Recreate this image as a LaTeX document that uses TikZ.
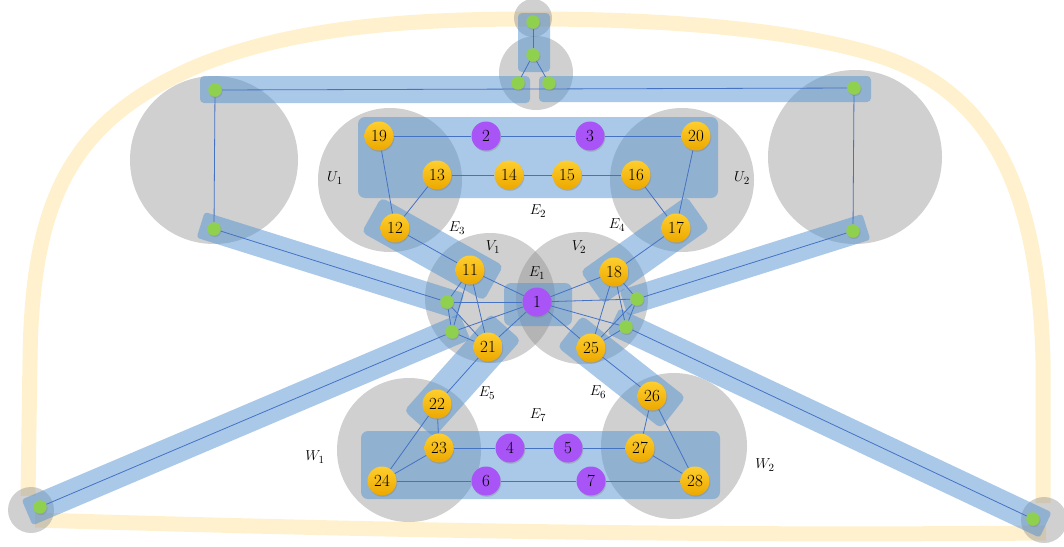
\documentclass[tikz,border=0pt]{standalone}
\usetikzlibrary{shadows,calc}
\pgfdeclarelayer{yel}
\pgfdeclarelayer{blob}
\pgfdeclarelayer{edg}
\pgfsetlayers{yel,blob,edg,main}
\definecolor{ycol}{RGB}{255,241,206}
\definecolor{gblob}{RGB}{137,137,137}
\definecolor{bblob}{RGB}{85,147,211}
\definecolor{ecol}{RGB}{68,114,196}
\definecolor{ytop}{RGB}{255,206,45}
\definecolor{ybot}{RGB}{236,168,0}
\definecolor{pcol}{RGB}{168,84,246}
\definecolor{gcol}{RGB}{143,208,78}
\begin{document}
\begin{tikzpicture}[x=1pt,y=-1pt,
  shad/.style={drop shadow={shadow xshift=0.8pt, shadow yshift=-1.3pt, opacity=0.35}},
  ynode/.style={circle, minimum size=29pt, inner sep=0pt, top color=ytop, bottom color=ybot, draw=none, shad, font=\fontsize{17}{17}\selectfont},
  pnode/.style={circle, minimum size=29pt, inner sep=0pt, fill=pcol, draw=none, shad, font=\fontsize{17}{17}\selectfont},
  gnode/.style={circle, minimum size=13.5pt, inner sep=0pt, fill=gcol, draw=none, shad},
  lab/.style={font=\fontsize{15}{15}\selectfont, inner sep=0pt},
  edge/.style={draw=ecol, line width=0.8pt},
  gray blob/.style={fill=gblob, fill opacity=0.4},
  blue box/.style={fill=bblob, fill opacity=0.5, rounded corners=7pt},
  slant box/.style={fill=bblob, fill opacity=0.5, rounded corners=5pt, sloped, midway, inner sep=0pt, draw=none},
  yloop/.style={draw=ycol, line width=15pt, line cap=butt}
]
\useasboundingbox (0,0) rectangle (1064,546);
% ---------- nodes ----------
\node[ynode] (n19) at (379,136) {19};
\node[pnode] (n2) at (486,136) {2};
\node[pnode] (n3) at (590,136) {3};
\node[ynode] (n20) at (696,136) {20};
\node[ynode] (n13) at (437,175) {13};
\node[ynode] (n14) at (509,175) {14};
\node[ynode] (n15) at (567,175) {15};
\node[ynode] (n16) at (636,175) {16};
\node[ynode] (n12) at (395,228) {12};
\node[ynode] (n17) at (676,228) {17};
\node[ynode] (n11) at (470,270) {11};
\node[ynode] (n18) at (614,272) {18};
\node[pnode] (n1) at (537,302) {1};
\node[ynode] (n21) at (488,347) {21};
\node[ynode] (n25) at (591,348) {25};
\node[ynode] (n22) at (437,404) {22};
\node[ynode] (n26) at (652,396) {26};
\node[ynode] (n23) at (439,448) {23};
\node[pnode] (n4) at (510,448) {4};
\node[pnode] (n5) at (568,448) {5};
\node[ynode] (n27) at (640,448) {27};
\node[ynode] (n24) at (382,481) {24};
\node[pnode] (n6) at (486,481) {6};
\node[pnode] (n7) at (591,481) {7};
\node[ynode] (n28) at (695,481) {28};
% green nodes
\node[gnode] (gT1) at (533,22) {};
\node[gnode] (gT2) at (533,55) {};
\node[gnode] (gT3) at (518,83) {};
\node[gnode] (gT4) at (549,83) {};
\node[gnode] (gL1) at (215,90) {};
\node[gnode] (gL2) at (214,229) {};
\node[gnode] (gR1) at (854,88) {};
\node[gnode] (gR2) at (853,231) {};
\node[gnode] (gA) at (447,302) {};
\node[gnode] (gB) at (452,332) {};
\node[gnode] (gC) at (637,299) {};
\node[gnode] (gD) at (626,327) {};
\node[gnode] (gBL) at (40,507) {};
\node[gnode] (gBR) at (1033,519) {};
% labels
\node[lab] (lU1) at (335,178) {$U_1$};
\node[lab] (lU2) at (742,178) {$U_2$};
\node[lab] (lE2) at (538,211) {$E_2$};
\node[lab] (lE3) at (457,228) {$E_3$};
\node[lab] (lE4) at (617,225) {$E_4$};
\node[lab] (lV1) at (493,247) {$V_1$};
\node[lab] (lV2) at (579,247) {$V_2$};
\node[lab] (lE1) at (537,273) {$E_1$};
\node[lab] (lE5) at (487,393) {$E_5$};
\node[lab] (lE6) at (598,392) {$E_6$};
\node[lab] (lE7) at (538,415) {$E_7$};
\node[lab] (lW1) at (315,457) {$W_1$};
\node[lab] (lW2) at (765,465) {$W_2$};
% ---------- yellow loop ----------
\begin{pgfonlayer}{yel}
\draw[yloop] (28,496) -- (30,360) .. controls (32,200) and (70,120) .. (200,65)
  .. controls (300,25) and (420,19) .. (533,19)
  .. controls (650,19) and (780,27) .. (870,53)
  .. controls (980,85) and (1038,170) .. (1043,360) -- (1043,503);
\draw[yloop] (35,520) .. controls (400,531) and (700,536) .. (1046,533);
\end{pgfonlayer}
% ---------- gray blobs and blue boxes ----------
\begin{pgfonlayer}{blob}
\fill[gray blob] (214,160) circle (84pt);
\fill[gray blob] (855,157) circle (87pt);
\fill[gray blob] (533,18) circle (19pt);
\fill[gray blob] (536,73) circle (37pt);
\fill[gray blob] (390,180) circle (72pt);
\fill[gray blob] (682,180) circle (72pt);
\fill[gray blob] (490,298) circle (65pt);
\fill[gray blob] (582,298) circle (66pt);
\fill[gray blob] (409,450) circle (72pt);
\fill[gray blob] (674,446) circle (73pt);
\fill[gray blob] (31,510) circle (23pt);
\fill[gray blob] (1044,520) circle (23pt);
% axis-aligned boxes
\fill[blue box] (358,117) rectangle (718,198);
\fill[blue box] (361,431) rectangle (720,499);
\fill[blue box] (504,283) rectangle (572,326);
\fill[blue box, rounded corners=4pt] (518,13) rectangle (550,72);
\fill[blue box, rounded corners=4pt] (200,76) rectangle (530,103);
\fill[blue box, rounded corners=4pt] (539,76) rectangle (871,102);
% slanted boxes E3..E6
\path let \p1=($(n11.center)-(n12.center)$), \n1={veclen(\x1,\y1)} in
  (n12.center) -- node[slant box, minimum height=40pt, minimum width={\n1+54}] (bE3) {} (n11.center);
\path let \p1=($(n18.center)-(n17.center)$), \n1={veclen(\x1,\y1)} in
  (n17.center) -- node[slant box, minimum height=40pt, minimum width={\n1+54}] (bE4) {} (n18.center);
\path let \p1=($(n22.center)-(n21.center)$), \n1={veclen(\x1,\y1)} in
  (n21.center) -- node[slant box, minimum height=40pt, minimum width={\n1+54}] (bE5) {} (n22.center);
\path let \p1=($(n26.center)-(n25.center)$), \n1={veclen(\x1,\y1)} in
  (n25.center) -- node[slant box, minimum height=40pt, minimum width={\n1+54}] (bE6) {} (n26.center);
% long bars
\path let \p1=($(gA.center)-(gL2.center)$), \n1={veclen(\x1,\y1)} in
  (gL2.center) -- node[slant box, rounded corners=3pt, minimum height=27pt, minimum width={\n1+28}] (bA) {} (gA.center);
\path let \p1=($(gC.center)-(gR2.center)$), \n1={veclen(\x1,\y1)} in
  (gR2.center) -- node[slant box, rounded corners=3pt, minimum height=27pt, minimum width={\n1+28}] (bC) {} (gC.center);
\path let \p1=($(gB.center)-(gBL.center)$), \n1={veclen(\x1,\y1)} in
  (gBL.center) -- node[slant box, rounded corners=3pt, minimum height=28pt, minimum width={\n1+28}] (bB) {} (gB.center);
\path let \p1=($(gD.center)-(gBR.center)$), \n1={veclen(\x1,\y1)} in
  (gBR.center) -- node[slant box, rounded corners=3pt, minimum height=28pt, minimum width={\n1+28}] (bD) {} (gD.center);
\end{pgfonlayer}
% ---------- edges ----------
\begin{pgfonlayer}{edg}
\draw[edge] (gT1) -- (gT2);
\draw[edge] (gT2) -- (gT3);
\draw[edge] (gT2) -- (gT4);
\draw[edge] (gL1) -- (gR1);
\draw[edge] (gL1) -- (gL2);
\draw[edge] (gR1) -- (gR2);
\draw[edge] (gL2) -- (gA);
\draw[edge] (gR2) -- (gC);
\draw[edge] (gBL) -- (gB);
\draw[edge] (gBR) -- (gD);
\draw[edge] (n19) -- (n2);
\draw[edge] (n2) -- (n3);
\draw[edge] (n3) -- (n20);
\draw[edge] (n13) -- (n14);
\draw[edge] (n14) -- (n15);
\draw[edge] (n15) -- (n16);
\draw[edge] (n19) -- (n12);
\draw[edge] (n13) -- (n12);
\draw[edge] (n20) -- (n17);
\draw[edge] (n16) -- (n17);
\draw[edge] (n12) -- (n11);
\draw[edge] (n17) -- (n18);
% V1 clique
\draw[edge] (n11) -- (n21);
\draw[edge] (n11) -- (gA);
\draw[edge] (n11) -- (gB);
\draw[edge] (n11) -- (n1);
\draw[edge] (n21) -- (gA);
\draw[edge] (n21) -- (gB);
\draw[edge] (n21) -- (n1);
\draw[edge] (gA) -- (gB);
\draw[edge] (gA) -- (n1);
\draw[edge] (gB) -- (n1);
% V2 clique
\draw[edge] (n18) -- (n25);
\draw[edge] (n18) -- (gC);
\draw[edge] (n18) -- (gD);
\draw[edge] (n18) -- (n1);
\draw[edge] (n25) -- (gC);
\draw[edge] (n25) -- (gD);
\draw[edge] (n25) -- (n1);
\draw[edge] (gC) -- (gD);
\draw[edge] (gC) -- (n1);
\draw[edge] (gD) -- (n1);
% lower
\draw[edge] (n21) -- (n22);
\draw[edge] (n25) -- (n26);
\draw[edge] (n22) -- (n23);
\draw[edge] (n22) -- (n24);
\draw[edge] (n23) -- (n24);
\draw[edge] (n23) -- (n4);
\draw[edge] (n4) -- (n5);
\draw[edge] (n5) -- (n27);
\draw[edge] (n24) -- (n6);
\draw[edge] (n6) -- (n7);
\draw[edge] (n7) -- (n28);
\draw[edge] (n26) -- (n27);
\draw[edge] (n26) -- (n28);
\draw[edge] (n27) -- (n28);
\end{pgfonlayer}
\end{tikzpicture}
\end{document}
